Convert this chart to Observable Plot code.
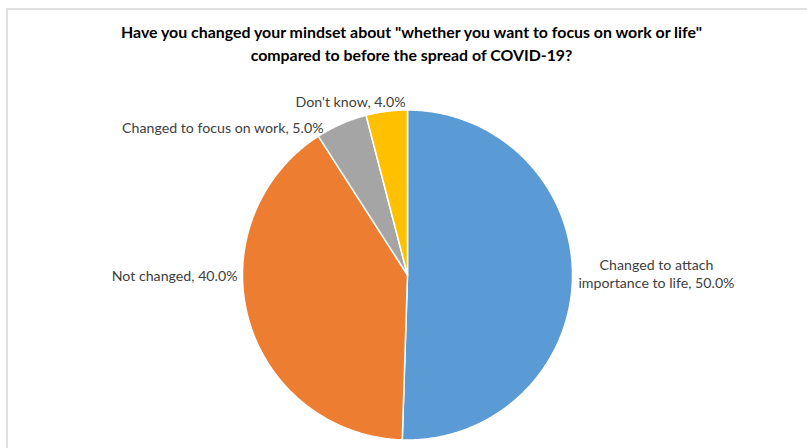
<!DOCTYPE html>
<html><head><meta charset="utf-8">
<script src="https://cdn.jsdelivr.net/npm/d3@7"></script>
<script src="https://cdn.jsdelivr.net/npm/@observablehq/plot@0.6"></script>
<style>
body{margin:0;background:#fff;}
#wrap{position:relative;width:807px;height:448px;overflow:hidden;background:#fff;}
#border{position:absolute;left:6px;top:8px;width:900px;height:600px;border:2px solid #e0e0e0;box-sizing:border-box;}
#chart{position:absolute;left:0;top:0;}
</style></head><body>
<div id="wrap"><div id="border"></div><div id="chart"></div></div>
<script>
// Data
const categories = ["Changed to attach importance to life", "Not changed", "Changed to focus on work", "Don't know"];
const values = [50.0, 40.0, 5.0, 4.0];
const labelTexts = ["Changed to attach\nimportance to life, 50.0%", "Not changed, 40.0%", "Changed to focus on work, 5.0%", "Don't know, 4.0%"];
const colors = ["#5B9BD5", "#ED7D31", "#A5A5A5", "#FFC000"];
const titleLines = ["Have you changed your mindset about \"whether you want to focus on work or life\"", "compared to before the spread of COVID-19?"];

// Label layout (pie units, relative to centre, radius = 1)
const labelLayout = [
  {x: 1.509, y: 0.01, anchor: "middle"},
  {x: -1.03, y: 0.0, anchor: "end"},
  {x: -0.509, y: 0.894, anchor: "end"},
  {x: -0.012, y: 1.052, anchor: "end"}
];

const total = d3.sum(values);
let acc = 0;
const points = [];
categories.forEach((c, i) => {
  const a0 = acc / total * 2 * Math.PI;
  acc += values[i];
  const a1 = acc / total * 2 * Math.PI;
  points.push({cat: c, x: 0, y: 0});
  const n = Math.max(4, Math.ceil((a1 - a0) / (Math.PI / 360)));
  for (let k = 0; k <= n; k++) {
    const a = a0 + (a1 - a0) * k / n;
    points.push({cat: c, x: Math.sin(a), y: Math.cos(a)});
  }
});

const labels = categories.map((c, i) => ({cat: c, text: labelTexts[i], ...labelLayout[i]}));

const cx = 407, cy = 274.5, R = 165;
const font = "Lato, 'Open Sans', sans-serif";

const chart = Plot.plot({
  width: 807,
  height: 448,
  margin: 0,
  style: {background: "transparent", fontFamily: font},
  x: {domain: [-1, 1], range: [cx - R, cx + R], axis: null},
  y: {domain: [-1, 1], range: [cy + R, cy - R], axis: null},
  color: {domain: categories, range: colors},
  marks: [
    Plot.line(points, {x: "x", y: "y", z: "cat", fill: "cat", stroke: "white", strokeWidth: 1.5, curve: "linear-closed"}),
    ...["start", "middle", "end"].map(anc => Plot.text(labels.filter(d => d.anchor === anc), {
      x: "x", y: "y", text: "text", textAnchor: anc, lineAnchor: "middle",
      fontSize: 14.2, fill: "#404040", lineHeight: 1.3
    })),
    Plot.text([titleLines.join("\n")], {
      text: d => d, frameAnchor: "top", dx: 7.5, dy: 41.5,
      textAnchor: "middle", lineAnchor: "middle", lineHeight: 1.45,
      fontSize: 15.9, fontWeight: "bold", fill: "#000"
    })
  ]
});
document.getElementById("chart").appendChild(chart);
</script>
</body></html>
